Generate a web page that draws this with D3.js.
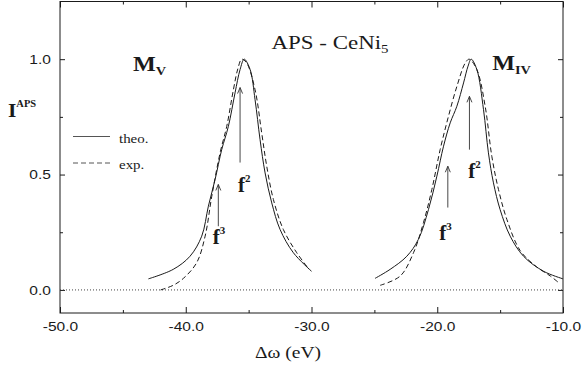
<!DOCTYPE html>
<html>
<head>
<meta charset="utf-8">
<script src="https://cdn.jsdelivr.net/npm/d3@7"></script>
<style>
  body { margin: 0; background: #fff; }
  svg { display: block; }
  .serif { font-family: "Liberation Serif", "Times New Roman", serif; }
  .sans { font-family: "Liberation Sans", Arial, sans-serif; }
</style>
</head>
<body>
<div class="chart"></div>
<script>
// --- data ---
var xTicks = [-50, -40, -30, -20, -10];
var xMinor = [-45, -35, -25, -15];
var yTicks = [0.0, 0.5, 1.0];
var yMinor = [0.25, 0.75];

// M_V edge, theory (solid)
var theoMVx = [-42.97, -41.0, -39.66, -38.73, -38.2, -37.67, -37.14, -36.61, -36.08, -35.68, -35.35, -34.88, -34.49, -34.09, -33.69, -33.16, -32.5, -31.44, -30.0];
var theoMVy = [0.048, 0.089, 0.146, 0.233, 0.363, 0.478, 0.608, 0.709, 0.854, 0.955, 1.0, 0.955, 0.825, 0.651, 0.507, 0.377, 0.262, 0.161, 0.081];
// M_V edge, experiment (dashed)
var expMVx = [-42.0, -41.0, -40.19, -39.13, -38.46, -37.93, -37.27, -36.74, -36.21, -35.85, -35.55, -35.15, -34.49, -33.96, -33.56, -33.03, -32.24, -31.17, -30.2];
var expMVy = [0.0, 0.02, 0.05, 0.118, 0.233, 0.406, 0.594, 0.709, 0.868, 0.96, 1.0, 0.983, 0.868, 0.68, 0.536, 0.392, 0.262, 0.161, 0.09];
// M_IV edge, theory (solid)
var theoMIVx = [-24.95, -23.75, -22.42, -21.5, -20.7, -20.03, -19.5, -18.97, -18.44, -17.91, -17.55, -17.3, -16.85, -16.32, -15.93, -15.53, -15.0, -14.2, -13.14, -11.55, -10.0];
var theoMIVy = [0.05, 0.089, 0.146, 0.219, 0.348, 0.493, 0.623, 0.724, 0.796, 0.897, 0.97, 1.0, 0.955, 0.781, 0.594, 0.464, 0.348, 0.233, 0.146, 0.081, 0.048];
// M_IV edge, experiment (dashed)
var expMIVx = [-24.54, -22.95, -21.89, -21.1, -20.43, -19.77, -19.11, -18.44, -17.78, -17.46, -16.85, -16.19, -15.66, -15.13, -14.46, -13.4, -12.1, -11.0, -10.4];
var expMIVy = [0.02, 0.06, 0.161, 0.291, 0.435, 0.608, 0.752, 0.882, 0.983, 1.0, 0.955, 0.796, 0.579, 0.435, 0.305, 0.17, 0.1, 0.06, 0.034];

// f2 / f3 arrows
var arrowX = [-35.68, -37.41, -17.44, -19.16];
var arrowFrom = [0.552, 0.276, 0.608, 0.357];
var arrowTo = [0.877, 0.457, 0.839, 0.536];
var arrowSup = ["2", "3", "2", "3"];
var labelX = [-35.84, -37.85, -17.54, -19.85];
var labelY = [0.426, 0.197, 0.487, 0.216];

// edge names
var edgeMain = ["M", "M"];
var edgeSub = ["V", "IV"];
var edgeX = [-44.2, -15.63];
var edgeY = [0.95, 0.955];

var width = 582, height = 368;
var mLeft = 60, mRight = 563, mTop = 1.5, mBottom = 313;
var ink = "#1a1a1a";

var svg = d3.select("body .chart").append("svg")
  .attr("width", width).attr("height", height);

var x = d3.scaleLinear().domain([-50, -10]).range([mLeft, mRight]);
var y = d3.scaleLinear().domain([-0.1, 1.25]).range([mBottom, mTop]);

// stretched text helper (the scan is wider than tall)
function stext(x0, y0, sx) {
  return svg.append("g")
    .attr("transform", "translate(" + x0 + "," + y0 + ") scale(" + sx + ",1)")
    .append("text");
}

// frame
svg.append("rect")
  .attr("x", mLeft).attr("y", mTop)
  .attr("width", mRight - mLeft).attr("height", mBottom - mTop)
  .attr("fill", "none").attr("stroke", ink).attr("stroke-width", 1);

// axes, ticks pointing inward
var fmt = function(d){ return d3.format(".1f")(d).replace("\u2212", "-"); };
svg.append("g").attr("transform", "translate(0," + mBottom + ")")
  .call(d3.axisBottom(x).tickValues(xTicks).tickSize(-6).tickPadding(8).tickFormat(fmt));
svg.append("g").attr("transform", "translate(0," + mBottom + ")")
  .call(d3.axisBottom(x).tickValues(xMinor).tickSize(-3).tickFormat(""));
svg.append("g").attr("transform", "translate(0," + mTop + ")")
  .call(d3.axisTop(x).tickValues(xTicks).tickSize(-6).tickFormat(""));
svg.append("g").attr("transform", "translate(0," + mTop + ")")
  .call(d3.axisTop(x).tickValues(xMinor).tickSize(-3).tickFormat(""));

svg.append("g").attr("transform", "translate(" + mLeft + ",0)")
  .call(d3.axisLeft(y).tickValues(yTicks).tickSize(-5).tickPadding(8).tickFormat(fmt));
svg.append("g").attr("transform", "translate(" + mLeft + ",0)")
  .call(d3.axisLeft(y).tickValues(yMinor).tickSize(-3).tickFormat(""));
svg.append("g").attr("transform", "translate(" + mRight + ",0)")
  .call(d3.axisRight(y).tickValues(yTicks).tickSize(-5).tickFormat(""));
svg.append("g").attr("transform", "translate(" + mRight + ",0)")
  .call(d3.axisRight(y).tickValues(yMinor).tickSize(-3).tickFormat(""));

svg.selectAll(".domain").remove();
svg.selectAll(".tick line").attr("stroke", ink);
svg.selectAll(".tick text")
  .attr("class", "sans")
  .attr("font-size", 13.5)
  .attr("fill", ink)
  .attr("transform", "scale(1.15,1)");
svg.selectAll("g[font-family]").attr("font-family", null);

// dotted zero line
svg.append("line")
  .attr("x1", x(-50)).attr("x2", x(-10))
  .attr("y1", y(0)).attr("y2", y(0))
  .attr("stroke", "#444").attr("stroke-width", 1)
  .attr("stroke-dasharray", "1,2");

// curves
var line = d3.line()
  .x(function(d){ return x(d[0]); })
  .y(function(d){ return y(d[1]); })
  .curve(d3.curveCatmullRom.alpha(0.5));

var curves = [
  {xs: theoMVx, ys: theoMVy, dash: null},
  {xs: expMVx, ys: expMVy, dash: "5,3"},
  {xs: theoMIVx, ys: theoMIVy, dash: null},
  {xs: expMIVx, ys: expMIVy, dash: "5,3"}
];
curves.forEach(function(c){
  var pts = d3.zip(c.xs, c.ys);
  svg.append("path")
    .datum(pts)
    .attr("d", line)
    .attr("fill", "none")
    .attr("stroke", ink)
    .attr("stroke-width", 1)
    .attr("stroke-dasharray", c.dash);
});

// arrows with labels
arrowX.forEach(function(ax, i){
  var px = x(ax), y0 = y(arrowFrom[i]), y1 = y(arrowTo[i]);
  svg.append("line")
    .attr("x1", px).attr("x2", px).attr("y1", y0).attr("y2", y1)
    .attr("stroke", "#333").attr("stroke-width", 0.9);
  svg.append("path")
    .attr("d", "M" + (px - 2.5) + "," + (y1 + 6) + "L" + px + "," + y1 + "L" + (px + 2.5) + "," + (y1 + 6))
    .attr("fill", "none").attr("stroke", "#333").attr("stroke-width", 0.9);
  var t = svg.append("text").attr("class", "serif")
    .attr("x", x(labelX[i])).attr("y", y(labelY[i]))
    .attr("font-size", 21).attr("font-weight", "bold").attr("fill", ink);
  t.append("tspan").text("f");
  t.append("tspan").attr("font-size", 11).attr("dy", -10).text(arrowSup[i]);
});

// edge names
edgeMain.forEach(function(m, i){
  var t = stext(x(edgeX[i]), y(edgeY[i]), 1.15).attr("class", "serif")
    .attr("font-size", 21).attr("font-weight", "bold").attr("fill", ink);
  t.append("tspan").text(m);
  t.append("tspan").attr("font-size", 12.5).attr("dy", 4).text(edgeSub[i]);
});

// title
var title = stext(330, 49, 1.24).attr("class", "serif")
  .attr("text-anchor", "middle").attr("font-size", 18.5).attr("fill", ink);
title.append("tspan").text("APS - CeNi");
title.append("tspan").attr("font-size", 12).attr("dy", 4).text("5");

// y label
var ylab = stext(8, 117, 1.1).attr("class", "serif")
  .attr("font-weight", "bold").attr("font-size", 19.5).attr("fill", ink);
ylab.append("tspan").text("I");
ylab.append("tspan").attr("font-size", 9.5).attr("dy", -10).text("APS");

// x label
stext(288, 358, 1.22).attr("class", "serif")
  .attr("text-anchor", "middle").attr("font-size", 16).attr("fill", ink)
  .text("\u0394\u03c9  (eV)");

// legend
var legend = [{name: "theo.", dash: null, y: 136.5}, {name: "exp.", dash: "5,3", y: 163}];
legend.forEach(function(l){
  svg.append("line")
    .attr("x1", 73).attr("x2", 110).attr("y1", l.y).attr("y2", l.y)
    .attr("stroke", "#555").attr("stroke-width", 1)
    .attr("stroke-dasharray", l.dash);
  stext(119, l.y + 6, 1.15).attr("class", "serif")
    .attr("font-size", 13).attr("fill", ink).text(l.name);
});
</script>
</body>
</html>
